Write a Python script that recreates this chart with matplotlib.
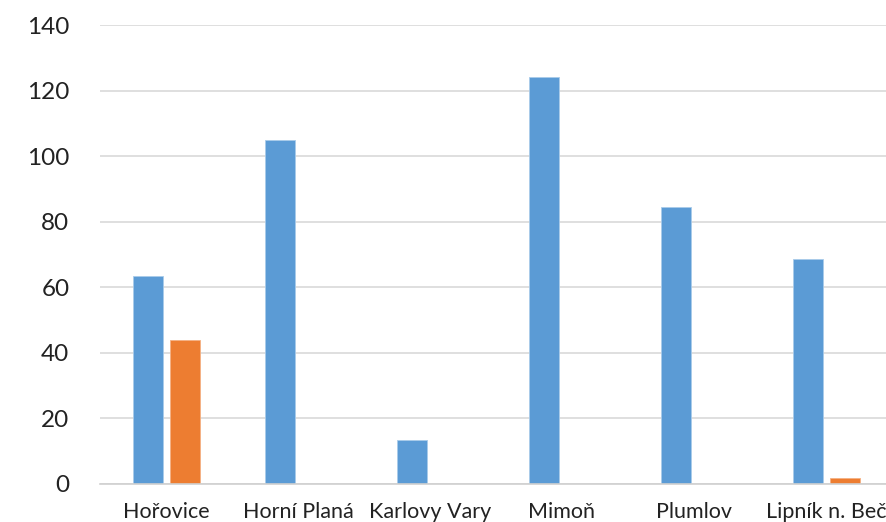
import numpy as np
import matplotlib.pyplot as plt

plt.rcParams['font.family'] = ['Lato', 'DejaVu Sans']

towns = ['Hořovice', 'Horní Planá', 'Karlovy Vary', 'Mimoň', 'Plumlov', 'Lipník n. Beč']
series_a = [63.5, 105, 13.5, 124, 84.5, 68.5]
series_b = [44, 0, 0, 0, 0, 1.8]

fig = plt.figure(figsize=(8.87, 5.22), dpi=100)
ax = fig.add_axes([0.1127, 0.0728, 0.8929, 0.8793])

x = np.arange(len(towns))
w = 0.228
ax.bar(x - 0.138, series_a, w, color='#5B9BD5', edgecolor='#a9cbea', linewidth=0.6, zorder=3)
ax.bar(x + 0.142, series_b, w, color='#ED7D31', edgecolor='#f4b183', linewidth=0.6, zorder=3)

ax.set_xlim(-0.5, 5.5)
ax.set_ylim(0, 140)
ax.set_yticks(range(0, 141, 20))
ax.set_xticks(x)
ax.set_xticklabels(towns, fontsize=15.5, color='#222222')
ax.tick_params(axis='y', labelsize=17.5, colors='#222222', length=0, pad=22)
ax.tick_params(axis='x', length=0, pad=13)
ax.yaxis.grid(True, color='#d9d9d9', linewidth=1.2, zorder=0)

for s in ['top', 'right', 'left']:
    ax.spines[s].set_visible(False)
ax.spines['bottom'].set_color('#d0d0d0')
ax.spines['bottom'].set_linewidth(1.2)
ax.spines['bottom'].set_zorder(4)

fig.savefig('out.png', dpi=100)
